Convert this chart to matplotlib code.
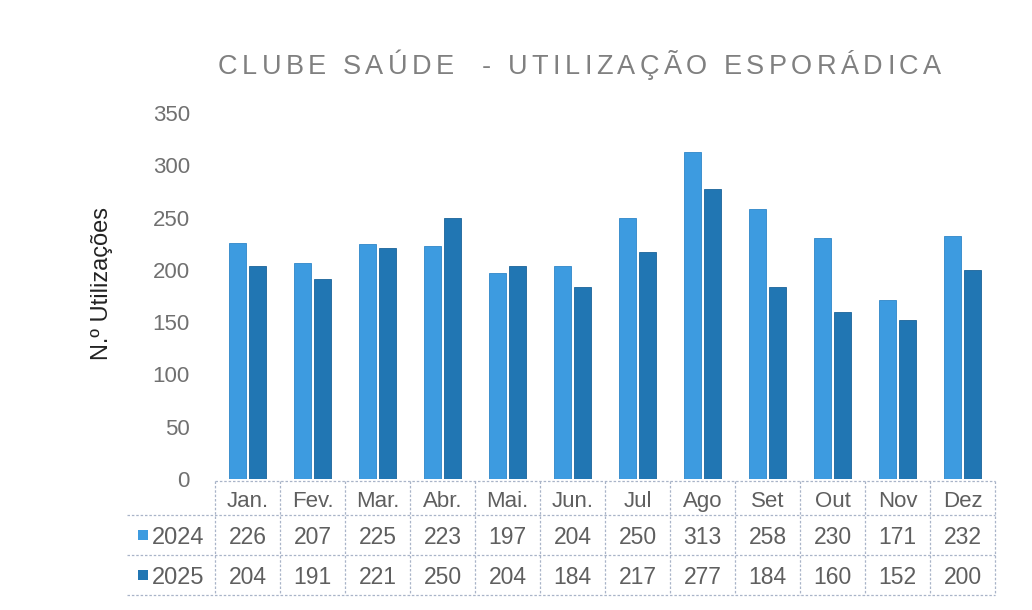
import matplotlib
matplotlib.use("Agg")
import matplotlib.pyplot as plt
import matplotlib.transforms as mtransforms
import numpy as np

months = ["Jan.", "Fev.", "Mar.", "Abr.", "Mai.", "Jun.", "Jul", "Ago", "Set", "Out", "Nov", "Dez"]
series_names = ["2024", "2025"]
values_2024 = [226, 207, 225, 223, 197, 204, 250, 313, 258, 230, 171, 232]
values_2025 = [204, 191, 221, 250, 204, 184, 217, 277, 184, 160, 152, 200]
yticks = [0, 50, 100, 150, 200, 250, 300, 350]
title = "CLUBE SAÚDE  - UTILIZAÇÃO ESPORÁDICA"
ylabel = "N.º Utilizações"

colors = ["#3d9be0", "#2176b3"]
edge_colors = ["#2f86c8", "#1a6399"]
text_gray = "#5f5f5f"
grid_col = "#a9b4c8"

plt.rcParams["font.family"] = ["Liberation Sans", "DejaVu Sans"]

W, H = 1032, 610
fig = plt.figure(figsize=(W / 100, H / 100), dpi=100)
fig.patch.set_facecolor("white")

def px(x, y):
    return x / W, 1 - y / H

ax_l, ax_r, ax_b, ax_t = 215, 995, 479, 113
ax = fig.add_axes([ax_l / W, 1 - ax_b / H, (ax_r - ax_l) / W, (ax_b - ax_t) / H])

x = np.arange(len(months))
bw = 0.25
off = 0.155
ax.bar(x - off, values_2024, bw, color=colors[0], edgecolor=edge_colors[0], linewidth=0.6)
ax.bar(x + off, values_2025, bw, color=colors[1], edgecolor=edge_colors[1], linewidth=0.6)

ax.set_xlim(-0.5, len(months) - 0.5)
ax.set_ylim(0, 350)
ax.set_yticks(yticks)
ax.set_yticklabels([str(t) for t in yticks], fontsize=16, color="#707070")
ax.tick_params(axis="y", length=0, pad=18)
ax.set_xticks([])
for s in ax.spines.values():
    s.set_visible(False)
ax.set_ylabel(ylabel, fontsize=17, color="#222222")
ax.yaxis.set_label_coords(-(ax_l - 113) / (ax_r - ax_l), (ax_b - 283) / (ax_b - ax_t))

# table below the axes: x in data coords, y in axes coords
trans = mtransforms.blended_transform_factory(ax.transData, ax.transAxes)
axh = ax_b - ax_t
def ya(ypix):
    return -(ypix - ax_b) / axh

row_top = [481, 515, 555]
row_bot = [515, 555, 595]
line_kw = dict(color=grid_col, linewidth=0.9, linestyle=(0, (2, 1.5)), clip_on=False, transform=trans)

# horizontal lines
ax.plot([-0.5, len(months) - 0.5], [ya(481), ya(481)], **line_kw)
leg_left = -0.5 - (ax_l - 127) / ((ax_r - ax_l) / len(months))
for yy in [515, 555, 595]:
    ax.plot([leg_left, len(months) - 0.5], [ya(yy), ya(yy)], **line_kw)
# vertical lines
for b in np.arange(len(months) + 1) - 0.5:
    ax.plot([b, b], [ya(481), ya(595)], **line_kw)

# header
for i, m in enumerate(months):
    ax.text(i, ya((row_top[0] + row_bot[0]) / 2 + 1), m, transform=trans, ha="center", va="center_baseline",
            fontsize=16, color=text_gray, clip_on=False)
# rows
for r, vals in enumerate([values_2024, values_2025]):
    yc = ya((row_top[r + 1] + row_bot[r + 1]) / 2)
    for i, v in enumerate(vals):
        ax.text(i, yc, str(v), transform=trans, ha="center", va="center_baseline",
                fontsize=16.5, color=text_gray, clip_on=False)
    # legend key
    fx, fy = px(138, (row_top[r + 1] + row_bot[r + 1]) / 2)
    fig.patches.append(plt.Rectangle((138 / W, fy - 5 / H), 10 / W, 10 / H, transform=fig.transFigure,
                                     facecolor=colors[r], edgecolor="none"))
    fig.text(152 / W, fy, series_names[r], ha="left", va="center_baseline", fontsize=17, color=text_gray)

# letter-spaced title
fig.canvas.draw()
renderer = fig.canvas.get_renderer()
tsize = 19.5
start, end = 218, 941
widths = []
for ch in title:
    t = fig.text(0, 0, ch if ch != " " else "n", fontsize=tsize)
    bb = t.get_window_extent(renderer)
    w = bb.width if ch != " " else bb.width * 0.5
    widths.append(w)
    t.remove()
total = sum(widths)
gap = (end - start - total) / (len(title) - 1)
cx = start
ty = 1 - 64 / H
for ch, w in zip(title, widths):
    if ch != " ":
        fig.text(cx / W, ty, ch, fontsize=tsize, color="#808080", ha="left", va="center_baseline")
    cx += w + gap

fig.savefig("out.png", dpi=100, facecolor="white")
